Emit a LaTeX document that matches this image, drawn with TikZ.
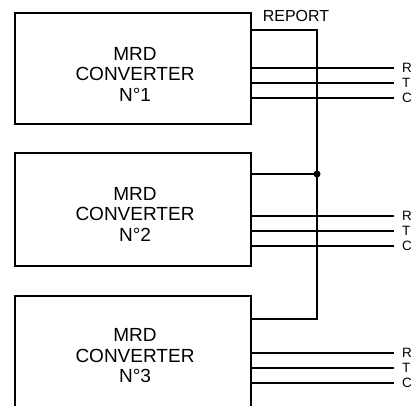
\documentclass[tikz,border=0pt]{standalone}
\usepackage{fontspec}
\setmainfont{Liberation Sans}
\begin{document}
\begin{tikzpicture}[x=1pt,y=-1pt,
  wire/.style={line width=2pt},
  conv/.style={draw,line width=2pt,minimum width=236pt,anchor=north west,inner sep=0pt},
  convtext/.style={align=center,font=\fontsize{19}{20.5}\selectfont,inner sep=0pt},
  sig/.style={anchor=west,inner sep=0pt,font=\fontsize{13.5}{15}\selectfont},
  lab/.style={inner sep=0pt,font=\fontsize{16}{17}\selectfont}]
\useasboundingbox (0,0) rectangle (417,406);
\clip (0,0) rectangle (417,406);
% boxes
\node[conv,minimum height=111pt] (b1) at (14,12) {};
\node[conv,minimum height=113pt] (b2) at (14,152) {};
\node[conv,minimum height=130pt] (b3) at (14,295) {};
\node[convtext] (t1) at (135,74) {MRD\\CONVERTER\\N°1};
\node[convtext] (t2) at (135,214) {MRD\\CONVERTER\\N°2};
\node[convtext] (t3) at (135,356) {MRD\\CONVERTER\\N°3};
% report bus
\coordinate (r1) at (250,30);
\coordinate (r2) at (250,174);
\coordinate (r3) at (250,319);
\coordinate (c1) at (317,30);
\coordinate (c3) at (317,319);
\coordinate (j) at (317,174);
\draw[wire,line join=miter] (r1) -- (c1) -- (c3) -- (r3);
\draw[wire] (r2) -- (j);
\fill (j) circle (3.5pt);
\node[lab] (rep) at (296,16) {REPORT};
% signal lines
\foreach \b/\y in {1/68,2/216,3/353}{
  \coordinate (s\b r) at (250,\y);
  \coordinate (e\b r) at (394,\y);
  \coordinate (s\b t) at (250,\y+15);
  \coordinate (e\b t) at (394,\y+15);
  \coordinate (s\b c) at (250,\y+30);
  \coordinate (e\b c) at (394,\y+30);
  \draw[wire] (s\b r) -- (e\b r);
  \draw[wire] (s\b t) -- (e\b t);
  \draw[wire] (s\b c) -- (e\b c);
  \node[sig] (l\b r) at (402,\y) {R};
  \node[sig] (l\b t) at (402,\y+15) {T};
  \node[sig] (l\b c) at (402,\y+30) {C};
}
\end{tikzpicture}
\end{document}
